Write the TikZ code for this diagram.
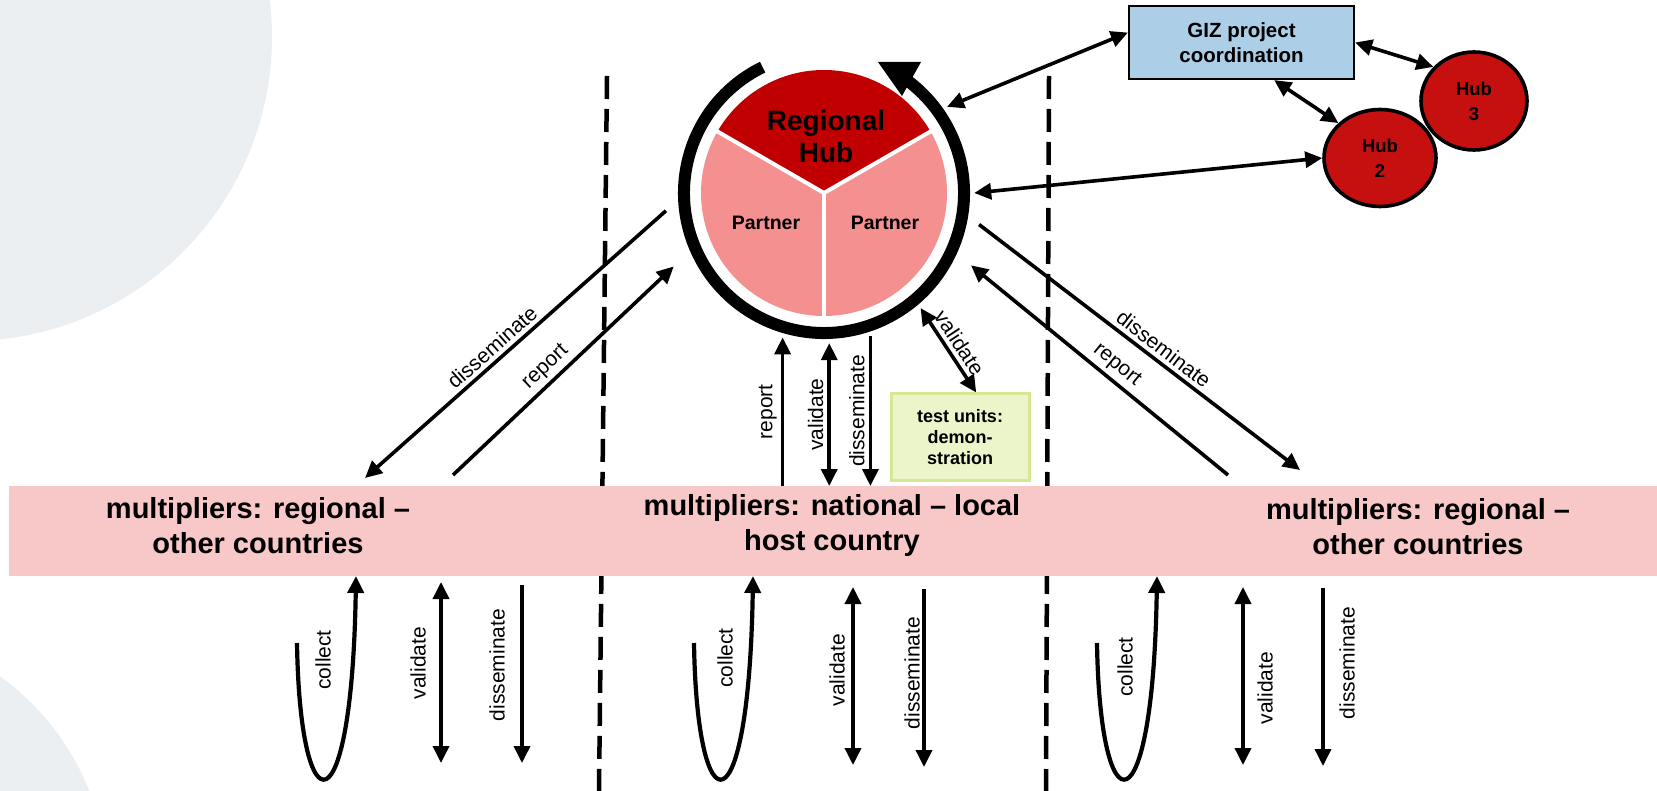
\documentclass[tikz,border=0pt]{standalone}
\usepackage{fontspec}
\setmainfont{Liberation Sans}
\usetikzlibrary{arrows.meta, positioning, shapes.geometric, calc}
\definecolor{bggrey}{RGB}{235,239,242}
\definecolor{bandpink}{RGB}{248,199,199}
\definecolor{hubred}{RGB}{192,0,0}
\definecolor{partnerpink}{RGB}{244,144,144}
\definecolor{smallhubred}{RGB}{198,16,16}
\definecolor{gizblue}{RGB}{172,206,230}
\definecolor{testfill}{RGB}{236,245,202}
\definecolor{testline}{RGB}{214,232,150}
\tikzset{%
  link/.style={line width=3.6pt}, % every connector
  lbl/.style={font=\fontsize{21}{25}\selectfont, inner sep=4pt},
  vlbl/.style={lbl, rotate=90},
  bandtext/.style={font=\fontsize{29}{35}\selectfont\bfseries, align=center},
  partnertext/.style={font=\fontsize{19.5}{24}\selectfont\bfseries},
  smallhub/.style={ellipse, draw, line width=3.6pt, fill=smallhubred, minimum width=112pt, minimum height=97pt, inner sep=0pt, align=center, font=\fontsize{18.5}{25}\selectfont\bfseries},
  divider/.style={line width=4.5pt, dash pattern=on 23pt off 10pt}
}
\begin{document}
\begin{tikzpicture}[x=1pt, y=1pt, >={Triangle[length=17pt, width=16pt]}]

\useasboundingbox (0,0) rectangle (1657,-791);

% background shapes
\begin{scope}
\clip (0,0) rectangle (1657,-791);
\fill[bggrey] (-32,-37) circle[radius=304];
\fill[bggrey] (-150,-885) circle[radius=257];
\end{scope}

\draw[divider] (607,-76) -- (599,-791);
\draw[divider] (1049,-76) -- (1046,-791);

\node[fill=bandpink, minimum width=1649pt, minimum height=90pt, inner sep=0pt, anchor=north west] (band) at (8.5,-486) {};
\node[bandtext] (multleft) at (258,-526) {multipliers: regional –\\other countries};
\node[bandtext] (multmid) at (832,-526) {multipliers: national – local\\host country};
\node[bandtext] (multright) at (1418,-527) {multipliers: regional –\\other countries};

% regional hub
\node[circle, minimum size=300pt, inner sep=0pt] (hub) at (824,-193) {};
\fill[hubred] (hub.center) -- ++(30:123) arc[start angle=30, end angle=150, radius=123] -- cycle;
\fill[partnerpink] (hub.center) -- ++(150:123) arc[start angle=150, end angle=270, radius=123] -- cycle;
\fill[partnerpink] (hub.center) -- ++(270:123) arc[start angle=270, end angle=390, radius=123] -- cycle;
\foreach \a in {30,150,270}
  \draw[white, line width=4pt] (hub.center) -- ++(\a:125);
\draw[line width=12pt] ([shift={(116:140)}]hub.center) arc[start angle=116, end angle=420, radius=140];
\fill ([shift={(54,131)}]hub.center) -- ([shift={(97,131)}]hub.center) -- ([shift={(78,97)}]hub.center) -- cycle;
\node[font=\fontsize{28}{32}\selectfont\bfseries, align=center] (rhub) at ([shift={(2,57)}]hub.center) {Regional\\Hub};
\node[partnertext] (partnerl) at ([shift={(-58,-30)}]hub.center) {Partner};
\node[partnertext] (partnerr) at ([shift={(61,-30)}]hub.center) {Partner};

% coordination and other hubs
\node[draw, line width=2.2pt, fill=gizblue, minimum width=225pt, minimum height=73pt, align=center, font=\fontsize{20.5}{25}\selectfont\bfseries] (giz) at (1241.5,-42.5) {GIZ project\\coordination};
\node[smallhub] (hub2) at (1380,-158) {Hub\\2};
\node[smallhub, minimum width=106pt, minimum height=98pt] (hub3) at ([shift={(94,57)}]hub2) {Hub\\3};
\node[draw=testline, line width=3pt, fill=testfill, minimum width=138pt, minimum height=86pt, align=center, font=\fontsize{18}{21}\selectfont\bfseries] (test) at ([shift={(136,-244)}]hub.center) {test units:\\demon-\\stration};

\draw[link, <->] (hub.35) -- (giz.175);
\draw[link, <->] (giz.east) -- (hub3.140);
\draw[link, <->] (giz.311) -- (hub2.140);
\draw[link, <->] (hub.0) -- (hub2.west);

% diagonal connectors
\coordinate (ldis) at (365,-478);
\coordinate (lrep) at (453,-475);
\coordinate (rdis) at (1300,-470);
\coordinate (rrep) at (1228,-475);
\draw[link, ->, shorten <=11pt] (hub.184) -- node[lbl, sloped, above, pos=0.56] {disseminate} (ldis);
\draw[link, ->, shorten >=18pt] (lrep) -- node[lbl, sloped, above, pos=0.44] {report} (hub.204);
\draw[link, ->, shorten <=9pt] (hub.350) -- node[lbl, sloped, above, pos=0.56] {disseminate} (rdis);
\draw[link, ->, shorten >=14pt] (rrep) -- node[lbl, sloped, above, pos=0.45] {report} (hub.335);

% host country connectors
\draw[link, ->] (hub.254 |- band.north) -- node[vlbl, anchor=south] {report} (hub.254);
\draw[link, <->] (hub.272 |- band.north) -- node[vlbl, anchor=south] {validate} (hub.272);
\draw[link, ->] (hub.288) -- node[vlbl, anchor=south] {disseminate} (hub.288 |- band.north);
\draw[link, <->] (hub.310) -- node[lbl, sloped, above] {validate} (test.70);

% below the band, left
\coordinate (col1a) at (297,-643);
\coordinate (col1b) at (356,-576);
\draw[line width=4.2pt, ->] (col1a) .. controls (300,-833) and (352,-833) .. (col1b);
\node[vlbl] (coll1) at (323,-660) {collect};
\coordinate (val1a) at (441,-582);
\coordinate (val1b) at (441,-763);
\draw[link, <->] (val1a) -- (val1b);
\node[vlbl] (vall1) at (418,-663) {validate};
\coordinate (dis1a) at (522,-585);
\coordinate (dis1b) at (522,-763);
\draw[link, ->] (dis1a) -- (dis1b);
\node[vlbl] (disl1) at (497,-665) {disseminate};

% below the band, middle
\coordinate (col2a) at (694,-643);
\coordinate (col2b) at (753,-576);
\draw[line width=4.2pt, ->] (col2a) .. controls (697,-833) and (749,-833) .. (col2b);
\node[vlbl] (coll2) at (725,-658) {collect};
\coordinate (val2a) at (853,-587);
\coordinate (val2b) at (853,-765);
\draw[link, <->] (val2a) -- (val2b);
\node[vlbl] (vall2) at (837,-670) {validate};
\coordinate (dis2a) at (924,-589);
\coordinate (dis2b) at (924,-767);
\draw[link, ->] (dis2a) -- (dis2b);
\node[vlbl] (disl2) at (912,-673) {disseminate};

% below the band, right
\coordinate (col3a) at (1097,-643);
\coordinate (col3b) at (1157,-576);
\draw[line width=4.2pt, ->] (col3a) .. controls (1100,-833) and (1153,-833) .. (col3b);
\node[vlbl] (coll3) at (1125,-667) {collect};
\coordinate (val3a) at (1243,-587);
\coordinate (val3b) at (1243,-765);
\draw[link, <->] (val3a) -- (val3b);
\node[vlbl] (vall3) at (1265,-688) {validate};
\coordinate (dis3a) at (1323,-588);
\coordinate (dis3b) at (1323,-766);
\draw[link, ->] (dis3a) -- (dis3b);
\node[vlbl] (disl3) at (1347,-663) {disseminate};

\end{tikzpicture}
\end{document}
